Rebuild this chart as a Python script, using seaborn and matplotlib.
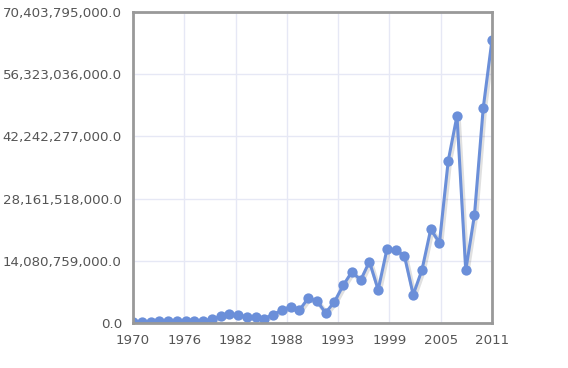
import matplotlib
matplotlib.use("Agg")
import matplotlib.pyplot as plt
import matplotlib.patheffects as pe
import seaborn as sns
import pandas as pd
import numpy as np

years = list(range(1970, 2012))
values_bn = [0.25, 0.3, 0.3, 0.4, 0.45, 0.4, 0.4, 0.35, 0.5, 0.8,
             1.5, 2.0, 1.9, 1.3, 1.4, 1.0, 1.9, 2.9, 3.7, 2.9,
             5.6, 5.0, 2.3, 4.8, 8.5, 11.6, 9.7, 13.9, 7.5, 16.7,
             16.5, 15.2, 6.4, 12.0, 21.2, 18.2, 36.7, 46.9, 11.9, 24.5,
             48.7, 64.1]
values = [v * 1e9 for v in values_bn]
ytick_values = [0, 14080759000, 28161518000, 42242277000, 56323036000, 70403795000]

df = pd.DataFrame({"year": years, "value": values})

sns.set_style("white")
plt.rcParams['font.family'] = ['DejaVu Sans']

fig = plt.figure(figsize=(5.68, 3.68), dpi=100)
ax = fig.add_axes([133/568, 1-323/368, (492-133)/568, (323-12)/368])

line_color = "#6b8fd9"
sns.lineplot(data=df, x="year", y="value", ax=ax, color=line_color,
             linewidth=2.2,
             path_effects=[pe.SimpleLineShadow(offset=(1, -1), shadow_color="#000000", alpha=0.12, linewidth=3.5),
                           pe.Normal()])
sns.scatterplot(data=df, x="year", y="value", ax=ax, color=line_color,
                s=55, linewidth=0, zorder=3)

ax.set_xlim(1970, 2011)
ax.set_ylim(0, 70403795000)

xt = np.linspace(1970, 2011, 8)
ax.set_xticks(xt)
ax.set_xticklabels([str(int(round(t))) for t in xt])
ax.set_yticks(ytick_values)
ax.set_yticklabels([f"{v:,.1f}" for v in ytick_values])

ax.grid(True, color="#e6e8f5", linewidth=1)
ax.set_axisbelow(True)
for s in ax.spines.values():
    s.set_visible(True)
    s.set_color("#999999")
    s.set_linewidth(2)
    s.set_zorder(5)

ax.tick_params(axis="both", which="both", length=5, width=1, color="#999999",
               labelcolor="#555555", labelsize=9.6, direction="out")
ax.tick_params(axis="y", pad=3)
ax.tick_params(axis="x", pad=3)
ax.set_xlabel("")
ax.set_ylabel("")

fig.savefig("out.png", dpi=100)
